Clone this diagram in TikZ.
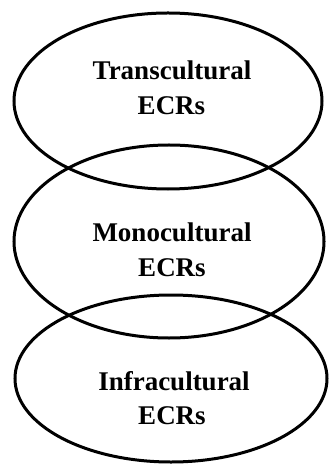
\documentclass[tikz,border=0pt]{standalone}
\usepackage{fontspec}
\setmainfont{Liberation Serif}
\usetikzlibrary{shapes.geometric}

\tikzset{
    ring/.style={draw=black, line width=3bp, ellipse, inner sep=0pt},
    lbl/.style={font=\bfseries\fontsize{27bp}{35bp}\selectfont, anchor=base, inner sep=0pt}
}

\begin{document}
\begin{tikzpicture}[x=1bp, y=-1bp]
    \useasboundingbox (0,0) rectangle (329,466);

    % Les trois ellipses superposées
    \node[ring, minimum width=308bp, minimum height=176bp] (trans) at (168,101) {};
    \node[ring, minimum width=310bp, minimum height=193bp] (mono) at (169,241.5) {};
    \node[ring, minimum width=312bp, minimum height=167bp] (infra) at (171,378.5) {};

    % Etiquettes
    \node[lbl] (transname) at (172,80) {Transcultural};
    \node[lbl] (transecr) at (171.5,115) {ECRs};
    \node[lbl] (mononame) at (172,241.5) {Monocultural};
    \node[lbl] (monoecr) at (172,276.5) {ECRs};
    \node[lbl] (infraname) at (174,390) {Infracultural};
    \node[lbl] (infraecr) at (172,424) {ECRs};
\end{tikzpicture}
\end{document}
